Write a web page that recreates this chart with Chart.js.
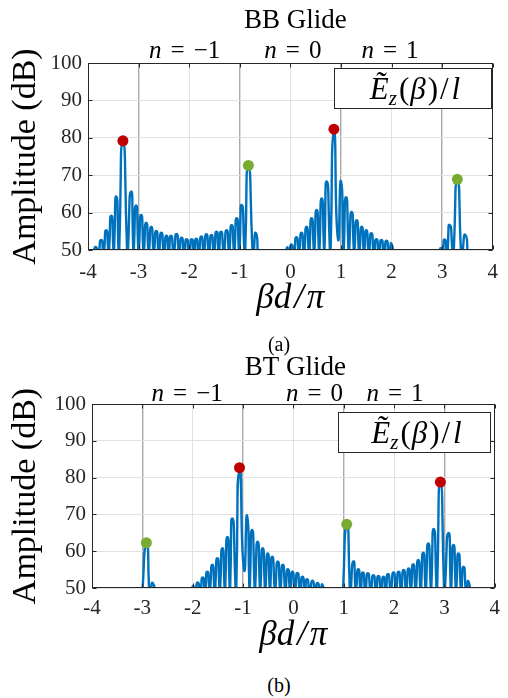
<!DOCTYPE html>
<html><head><meta charset="utf-8">
<script src="https://cdn.jsdelivr.net/npm/chart.js@4.4.1/dist/chart.umd.min.js"></script>
<style>
html,body{margin:0;padding:0;background:#fff;}
body{width:508px;height:698px;position:relative;overflow:hidden;}
.wrap{position:absolute;left:0;width:508px;height:330px;}
.cap{position:absolute;width:60px;text-align:center;font:20px "Liberation Serif",serif;color:#000;line-height:23px;}
</style></head><body>
<div class="wrap" style="top:0"><canvas id="ca" width="508" height="330"></canvas></div>
<div class="wrap" style="top:335px"><canvas id="cb" width="508" height="330"></canvas></div>
<div class="cap" style="left:249px;top:333px">(a)</div>
<div class="cap" style="left:249px;top:674px">(b)</div>
<script>
// ---------- data ----------
// BB Glide spectrum: lobe peaks and nulls (nulls below the 50 dB floor)
const bbX = [-3.90,-3.85,-3.795,-3.74,-3.69,-3.64,-3.59,-3.54,-3.49,-3.44,-3.39,-3.31,-3.22,-3.15,-3.10,-3.05,-3.00,-2.95,-2.90,-2.85,-2.80,-2.75,-2.70,-2.65,-2.60,-2.55,-2.50,-2.45,-2.405,-2.36,-2.305,-2.25,-2.20,-2.15,-2.10,-2.05,-2.00,-1.95,-1.905,-1.86,-1.81,-1.76,-1.71,-1.66,-1.61,-1.56,-1.51,-1.46,-1.415,-1.37,-1.315,-1.26,-1.21,-1.16,-1.11,-1.06,-1.01,-0.96,-0.90,-0.83,-0.74,-0.68,-0.63,
  -0.12,-0.07,-0.025,0.02,0.07,0.12,0.17,0.22,0.27,0.32,0.37,0.42,0.47,0.52,0.57,0.62,0.67,0.72,0.79,0.86,0.94,1.00,1.05,1.10,1.155,1.21,1.26,1.31,1.36,1.41,1.455,1.50,1.55,1.60,1.65,1.70,1.75,1.80,1.85,1.90,1.95,2.00,2.05,
  2.91,2.96,3.005,3.05,3.10,3.15,3.22,3.30,3.38,3.46,3.52];
const bbY = [48,50.8,48,52.7,48,55.3,48,59.2,48,64.3,47,78.4,47,65.6,48,61.9,48,59.4,48,57.3,48,56.2,48,55.1,48,54.6,48,53.8,48,53.8,48,54.3,48,53.3,48,52.9,48,52.9,48,53.0,48,53.6,48,54.2,48,54.0,48,54.9,48,54.9,48,55.3,48,56.7,48,58.5,48,62.0,47,71.9,47,54.5,45,
  45,50.5,48,51.5,48,53.4,48,54.6,48,56.2,48,58.5,48,60.7,48,63.8,48,68.3,47,81.5,53,68.4,48,64.1,48,60.2,48,58.0,48,56.2,48,55.3,48,54.5,48,52.9,48,52.7,48,52.5,48,51.6,45,
  45,50.3,48,52.8,48,56.7,47,68.2,47,54.0,45];
const bbRedX = [-3.31, 0.86];
const bbRedY = [79.2, 82.3];
const bbGreenX = [-0.83, 3.30];
const bbGreenY = [72.6, 68.9];

// BT Glide spectrum
const btX = [-3.02,-2.92,-2.855,-2.79,-2.73,
  -2.05,-2.00,-1.95,-1.90,-1.85,-1.80,-1.755,-1.71,-1.66,-1.61,-1.56,-1.51,-1.46,-1.41,-1.36,-1.31,-1.26,-1.21,-1.14,-1.07,-0.98,-0.92,-0.87,-0.82,-0.765,-0.71,-0.66,-0.61,-0.56,-0.51,-0.465,-0.42,-0.365,-0.31,-0.26,-0.21,-0.16,-0.11,-0.065,-0.02,0.03,0.08,0.13,0.18,0.225,0.27,0.325,0.38,0.43,0.48,0.53,0.58,0.63,
  0.97,1.06,1.13,1.19,1.24,1.29,1.335,1.38,1.43,1.48,1.535,1.59,1.64,1.69,1.74,1.79,1.835,1.88,1.935,1.99,2.04,2.09,2.14,2.19,2.24,2.29,2.335,2.38,2.43,2.48,2.53,2.58,2.63,2.68,2.735,2.79,2.85,2.92,3.00,3.08,3.13,3.18,3.23,3.28,3.33,3.38,3.43,3.48,3.53];
const btY = [45,61.6,47,51.3,45,
  45,50.4,48,51.5,48,52.9,48,54.4,48,56.3,48,58.1,48,60.8,48,63.9,48,68.9,47,82.0,55,69.6,48,65.8,48,62.6,48,60.8,48,59.4,48,58.5,48,57.2,48,56.3,48,55.1,48,54.4,48,54.1,48,53.1,48,52.4,48,52.0,48,51.4,48,50.8,45,
  45,66.8,47,57.2,48,55.1,48,54.2,48,54.0,48,53.5,48,53.3,48,53.1,48,53.8,48,54.2,48,54.4,48,54.9,48,55.3,48,56.5,48,57.6,48,59.6,48,62.1,48,66.0,47,78.2,47,64.9,48,61.7,48,59.4,48,55.8,48,51.7,45];
const btRedX = [-1.07, 2.92];
const btRedY = [82.7, 78.8];
const btGreenX = [-2.92, 1.06];
const btGreenY = [62.3, 67.3];

// texts
const bbTitle = 'BB Glide';
const btTitle = 'BT Glide';
const nRhs = ['\u22121', '0', '1'];
const bbNLabelX = [-2.09, 0.05, 1.97];
const btNLabelX = [-2.11, 0.42, 2.02];
const xAxisTitle = '\u03B2d\u200A/\u200A\u03C0';
const yAxisTitle = 'Amplitude (dB)';

// ---------- drawing ----------
const SERIF = '"Liberation Serif", "Times New Roman", serif';
Chart.defaults.font.family = SERIF;

function pts(xs, ys) { return xs.map((x, i) => ({x: x, y: ys[i]})); }
// spectrum vertices: nulls (below the floor) are doubled so the spline keeps a sharp notch there
function curvePts(xs, ys) {
  const out = [];
  xs.forEach((x, i) => {
    out.push({x: x, y: ys[i]});
    if (ys[i] < 50) out.push({x: x, y: ys[i]});
  });
  return out;
}

function drawParts(ctx, parts, cx, cy) {
  let total = 0;
  parts.forEach(p => { ctx.font = p.font; p.w = ctx.measureText(p.t).width; total += p.w + (p.gap || 0); });
  let x = cx - total / 2;
  ctx.textAlign = 'left';
  ctx.textBaseline = 'alphabetic';
  parts.forEach(p => { ctx.font = p.font; ctx.fillText(p.t, x, cy + (p.dy || 0)); x += p.w + (p.gap || 0); });
}

const decor = {
  id: 'decor',
  afterDatasetsDraw(chart, args, o) {
    const {ctx, chartArea: a, scales: {x, y}} = chart;
    ctx.save();
    ctx.strokeStyle = '#262626';
    ctx.lineWidth = 1;
    const L = Math.round(a.left) + 0.5, R = Math.round(a.right) - 0.5;
    const T = Math.round(a.top) + 0.5, B = Math.round(a.bottom) - 0.5;
    ctx.beginPath();
    x.ticks.forEach(t => {
      const px = Math.round(x.getPixelForValue(t.value)) + 0.5;
      ctx.moveTo(px, B); ctx.lineTo(px, B - 4);
      ctx.moveTo(px, T); ctx.lineTo(px, T + 4);
    });
    y.ticks.forEach(t => {
      const py = Math.round(y.getPixelForValue(t.value)) + 0.5;
      ctx.moveTo(L, py); ctx.lineTo(L + 4, py);
      ctx.moveTo(R, py); ctx.lineTo(R - 4, py);
    });
    ctx.stroke();
    ctx.strokeRect(L, T, R - L, B - T);
    ctx.restore();
  },
  afterDraw(chart, args, o) {
    const {ctx, chartArea: a, scales: {x}} = chart;
    ctx.save();
    ctx.fillStyle = '#000';
    // title
    ctx.font = '27px ' + SERIF;
    ctx.textAlign = 'center';
    ctx.textBaseline = 'alphabetic';
    ctx.fillText(o.title, (a.left + a.right) / 2 + o.titleDx, o.titleBase);
    // n labels
    o.nX.forEach((v, i) => {
      const cx = x.getPixelForValue(v);
      drawParts(ctx, [
        {t: 'n', font: 'italic 25px ' + SERIF, gap: 9},
        {t: '=', font: '25px ' + SERIF, gap: 9},
        {t: o.nRhs[i], font: '25px ' + SERIF}
      ], cx, o.nBase);
    });
    // legend box
    const bw = o.box.w, bh = o.box.h;
    const bx = Math.round(a.right - o.box.right - bw) + 0.5;
    const by = Math.round(a.top + o.box.top) + 0.5;
    ctx.fillStyle = '#fff';
    ctx.fillRect(bx, by, bw, bh);
    ctx.strokeStyle = '#262626';
    ctx.lineWidth = 1;
    ctx.strokeRect(bx, by, bw, bh);
    ctx.fillStyle = '#000';
    const fs = 31;
    drawParts(ctx, [
      {t: '\u1EBC', font: 'italic ' + fs + 'px ' + SERIF, gap: 0},
      {t: 'z', font: 'italic 21px ' + SERIF, dy: 6, gap: 2},
      {t: '(', font: fs + 'px ' + SERIF, gap: 1},
      {t: '\u03B2', font: 'italic ' + fs + 'px ' + SERIF, gap: 2},
      {t: ')', font: fs + 'px ' + SERIF, gap: 2},
      {t: '/', font: fs + 'px ' + SERIF, gap: 3},
      {t: 'l', font: 'italic ' + fs + 'px ' + SERIF}
    ], bx + bw / 2 + 2, by + bh / 2 + 10);
    ctx.restore();
  }
};

function makeChart(id, d, L) {
  const gridColor = c => (Math.abs(c.tick.value) % 2 === 1 ? '#a9a9a9' : '#e1e1e1');
  const gridWidth = c => (Math.abs(c.tick.value) % 2 === 1 ? 1.4 : 1);
  return new Chart(document.getElementById(id), {
    type: 'scatter',
    data: {
      datasets: [
        {label: 'peak', data: pts(d.redX, d.redY), backgroundColor: '#c00000', pointRadius: 5.5, pointHoverRadius: 5.5, pointBorderWidth: 0, order: 1},
        {label: 'peak2', data: pts(d.greenX, d.greenY), backgroundColor: '#77ac30', pointRadius: 5.5, pointHoverRadius: 5.5, pointBorderWidth: 0, order: 1},
        {label: 'E_z(beta)/l', data: curvePts(d.x, d.y), showLine: true, borderColor: '#0072bd', borderWidth: 2.4,
         pointRadius: 0, pointHoverRadius: 0, tension: 0.8, capBezierPoints: false, fill: false, order: 2}
      ]
    },
    options: {
      responsive: false,
      animation: false,
      devicePixelRatio: 1,
      events: [],
      elements: {line: {capBezierPoints: false}},
      layout: {padding: {top: L.padTop, right: L.padRight, left: 0, bottom: 0}},
      plugins: {
        legend: {display: false},
        tooltip: {enabled: false},
        decor: {title: d.title, titleBase: L.titleBase, titleDx: L.titleDx, nX: d.nX, nRhs: nRhs, nBase: L.nBase, box: L.box}
      },
      scales: {
        x: {
          type: 'linear', min: -4, max: 4,
          ticks: {stepSize: 1, color: '#262626', font: {size: 21}, padding: L.xTickPad, maxRotation: 0, callback: v => String(v)},
          grid: {drawTicks: false, color: gridColor, lineWidth: gridWidth},
          border: {display: false},
          title: {display: true, text: xAxisTitle, color: '#000', font: {size: 35, style: 'italic'}, padding: {top: 0, bottom: L.xTitlePad}},
          afterFit: s => { s.height = L.xAxisH; }
        },
        y: {
          type: 'linear', min: 50, max: 100,
          ticks: {stepSize: 10, color: '#262626', font: {size: 21}, padding: 6},
          grid: {drawTicks: false, color: '#e1e1e1', lineWidth: 1},
          border: {display: false},
          title: {display: true, text: yAxisTitle, color: '#000', font: {size: 34}, padding: {top: L.yTitlePad, bottom: 0}},
          afterFit: s => { s.width = L.yAxisW; }
        }
      }
    },
    plugins: [decor]
  });
}

makeChart('ca',
  {x: bbX, y: bbY, redX: bbRedX, redY: bbRedY, greenX: bbGreenX, greenY: bbGreenY, title: bbTitle, nX: bbNLabelX},
  {padTop: 63, padRight: 5, yAxisW: 88, xAxisH: 80, xTickPad: 10, xTitlePad: 10, yTitlePad: 6,
   titleBase: 28, titleDx: 5, nBase: 58, box: {right: 2, top: 5, w: 157, h: 40}});

makeChart('cb',
  {x: btX, y: btY, redX: btRedX, redY: btRedY, greenX: btGreenX, greenY: btGreenY, title: btTitle, nX: btNLabelX},
  {padTop: 69, padRight: 11, yAxisW: 92, xAxisH: 77, xTickPad: 8, xTitlePad: 8, yTitlePad: 6,
   titleBase: 40, titleDx: 2, nBase: 66, box: {right: 5, top: 8, w: 152, h: 40}});
</script>
</body></html>
